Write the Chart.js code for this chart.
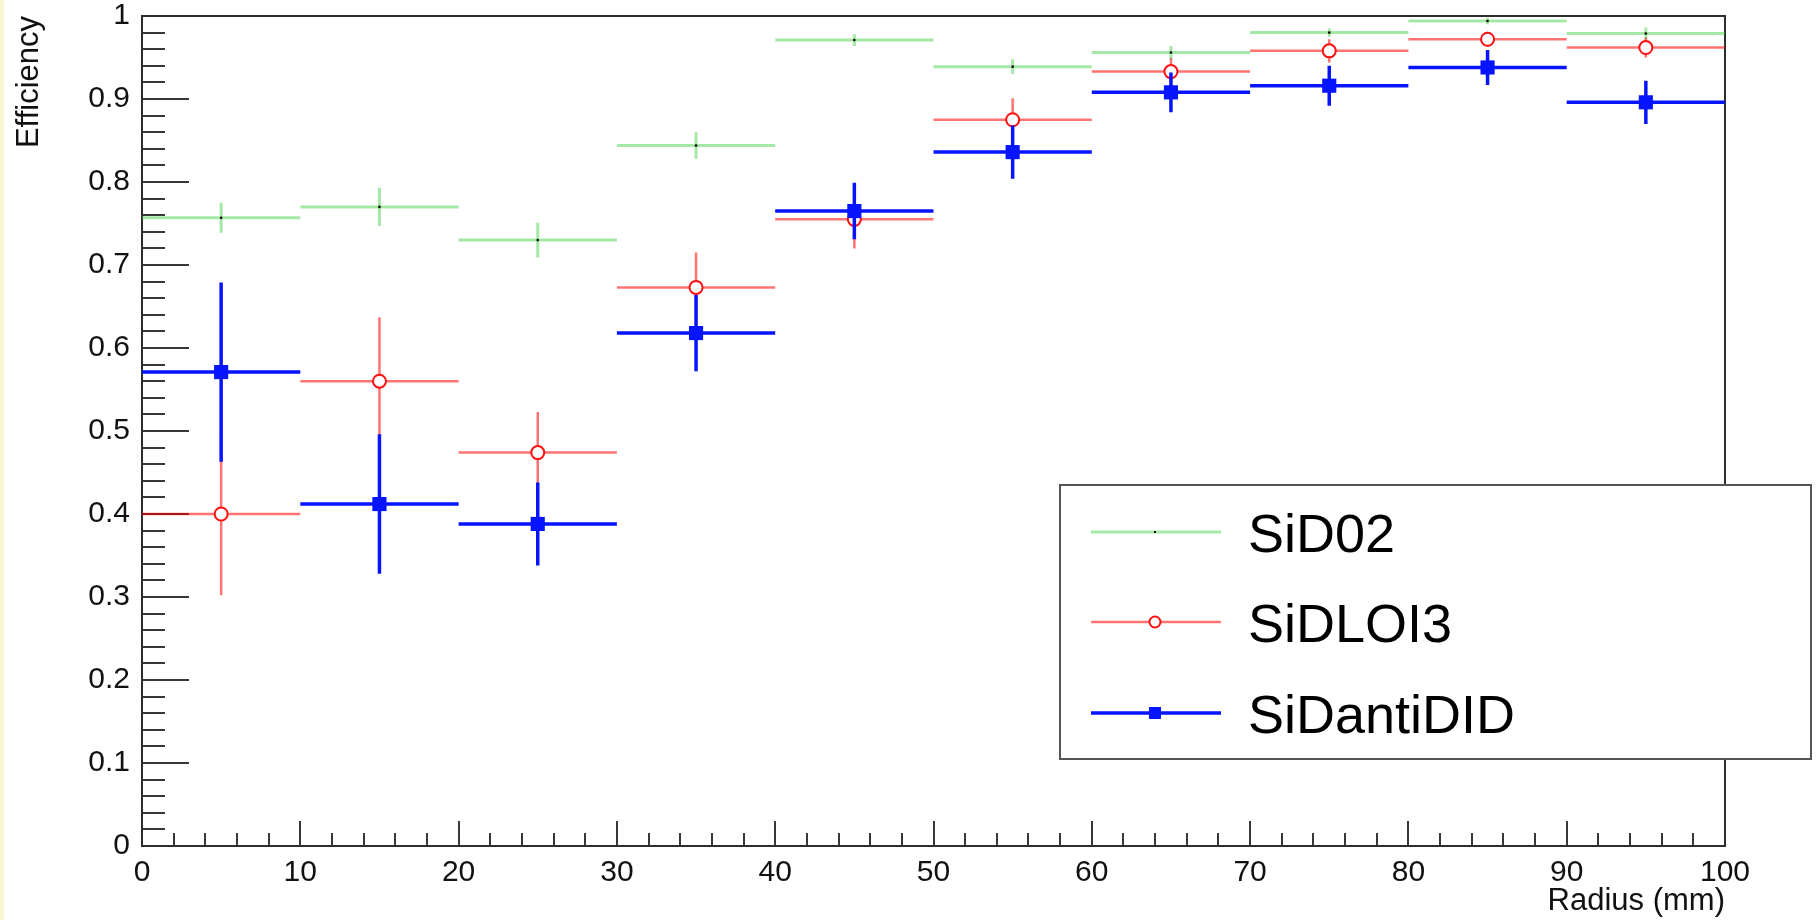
<!DOCTYPE html>
<html>
<head>
<meta charset="utf-8">
<script src="https://cdn.jsdelivr.net/npm/chart.js@4/dist/chart.umd.min.js"></script>
<style>
  html, body { margin: 0; padding: 0; background: #ffffff; }
  #wrap { width: 1820px; height: 920px; position: relative; }
  canvas { display: block; }
</style>
</head>
<body>
<div id="wrap"><canvas id="c" width="1820" height="920"></canvas></div>
<script>
// ---- data ----
const radiusCenters = [5, 15, 25, 35, 45, 55, 65, 75, 85, 95];
const binHalfWidth = 5;

const sid02Eff   = [0.757, 0.770, 0.730, 0.844, 0.971, 0.939, 0.956, 0.980, 0.994, 0.979];
const sid02Err   = [0.018, 0.023, 0.021, 0.016, 0.007, 0.009, 0.008, 0.005, 0.004, 0.007];

const sidloi3Eff = [0.400, 0.560, 0.474, 0.673, 0.755, 0.875, 0.933, 0.958, 0.972, 0.962];
const sidloi3Err = [0.098, 0.077, 0.049, 0.042, 0.035, 0.026, 0.016, 0.014, 0.009, 0.012];

const sidantiEff = [0.571, 0.412, 0.388, 0.618, 0.765, 0.836, 0.908, 0.916, 0.938, 0.896];
const sidantiErr = [0.108, 0.084, 0.050, 0.046, 0.034, 0.032, 0.024, 0.024, 0.021, 0.026];

const seriesNames = ['SiD02', 'SiDLOI3', 'SiDantiDID'];

const yTickValues = [0, 0.1, 0.2, 0.3, 0.4, 0.5, 0.6, 0.7, 0.8, 0.9, 1];
const xTickValues = [0, 10, 20, 30, 40, 50, 60, 70, 80, 90, 100];

// ---- helpers ----
function toPoints(vals) { return radiusCenters.map((x, i) => ({ x: x, y: vals[i] })); }

const FONT = '"Liberation Sans", Arial, Helvetica, sans-serif';

const styles = [
  { line: 'rgba(40,200,40,0.42)', lineWidth: 3 },
  { line: 'rgba(255,0,0,0.55)', lineWidth: 2.5 },
  { line: '#0714ff', lineWidth: 3.5 }
];

const rootPlugin = {
  id: 'rootStyle',
  beforeDraw(chart) {
    const ctx = chart.ctx;
    ctx.save();
    ctx.fillStyle = '#ffffff';
    ctx.fillRect(0, 0, chart.width, chart.height);
    ctx.fillStyle = '#f7f5d4';
    ctx.fillRect(0, 0, 4, chart.height);
    ctx.restore();
  },
  beforeDatasetsDraw(chart) {
    const ctx = chart.ctx;
    const xs = chart.scales.x, ys = chart.scales.y;
    const a = chart.chartArea;
    ctx.save();
    ctx.strokeStyle = '#383838';
    ctx.lineWidth = 2;
    // y ticks (inward, left axis)
    for (let i = 0; i <= 50; i++) {
      const v = i / 50;
      const py = Math.round(ys.getPixelForValue(v));
      const len = (i % 5 === 0) ? 47 : 23;
      ctx.beginPath();
      ctx.moveTo(a.left, py);
      ctx.lineTo(a.left + len, py);
      ctx.stroke();
    }
    // x ticks (inward, bottom axis)
    for (let i = 0; i <= 50; i++) {
      const v = i * 2;
      const px = Math.round(xs.getPixelForValue(v));
      const len = (i % 5 === 0) ? 25 : 13;
      ctx.beginPath();
      ctx.moveTo(px, a.bottom);
      ctx.lineTo(px, a.bottom - len);
      ctx.stroke();
    }
    // frame
    ctx.strokeStyle = '#2e2e2e';
    ctx.lineWidth = 2;
    ctx.strokeRect(Math.round(a.left), Math.round(a.top), Math.round(a.right - a.left), Math.round(a.bottom - a.top));
    ctx.restore();
  },
  beforeDatasetDraw(chart, args) {
    const ds = chart.data.datasets[args.index];
    const ctx = chart.ctx;
    const xs = chart.scales.x, ys = chart.scales.y;
    const st = styles[args.index];
    ctx.save();
    ctx.strokeStyle = st.line;
    ctx.lineWidth = st.lineWidth;
    ctx.lineCap = 'butt';
    ds.data.forEach((p, i) => {
      const e = ds.errY[i];
      const x0 = xs.getPixelForValue(p.x - binHalfWidth);
      const x1 = xs.getPixelForValue(p.x + binHalfWidth);
      const xc = xs.getPixelForValue(p.x);
      const yc = ys.getPixelForValue(p.y);
      const yt = ys.getPixelForValue(Math.min(1, p.y + e));
      const yb = ys.getPixelForValue(p.y - e);
      ctx.beginPath();
      ctx.moveTo(x0, yc); ctx.lineTo(x1, yc);
      ctx.moveTo(xc, yt); ctx.lineTo(xc, yb);
      ctx.stroke();
    });
    ctx.restore();
  },
  afterDraw(chart) {
    const ctx = chart.ctx;
    ctx.save();
    // legend box
    const bx = 1060, by = 485, bw = 751, bh = 274;
    ctx.fillStyle = '#ffffff';
    ctx.fillRect(bx, by, bw, bh);
    ctx.strokeStyle = '#555555';
    ctx.lineWidth = 2;
    ctx.strokeRect(bx, by, bw, bh);
    const rowY = [532, 622, 713];
    const baseY = [552, 642, 733];
    const lx0 = 1091, lx1 = 1221, mx = 1155;
    for (let k = 0; k < 3; k++) {
      const st = styles[k];
      ctx.strokeStyle = st.line;
      ctx.lineWidth = st.lineWidth;
      ctx.beginPath();
      ctx.moveTo(lx0, rowY[k]); ctx.lineTo(lx1, rowY[k]);
      ctx.stroke();
      if (k === 0) {
        ctx.fillStyle = '#000';
        ctx.fillRect(mx - 1, rowY[k] - 1, 2, 2);
      } else if (k === 1) {
        ctx.beginPath();
        ctx.arc(mx, rowY[k], 5.5, 0, Math.PI * 2);
        ctx.fillStyle = '#fff';
        ctx.fill();
        ctx.strokeStyle = '#ff1010';
        ctx.lineWidth = 2;
        ctx.stroke();
      } else {
        ctx.fillStyle = '#0714ff';
        ctx.fillRect(mx - 6, rowY[k] - 6, 12, 12);
      }
      ctx.fillStyle = '#000';
      ctx.font = '54px ' + FONT;
      ctx.textAlign = 'left';
      ctx.textBaseline = 'alphabetic';
      ctx.fillText(seriesNames[k], 1248, baseY[k]);
    }
    ctx.restore();
  }
};

const chart = new Chart(document.getElementById('c'), {
  type: 'scatter',
  data: {
    datasets: [
      {
        label: seriesNames[0], data: toPoints(sid02Eff), errY: sid02Err, order: 3,
        pointStyle: 'circle', pointRadius: 1.3, pointBackgroundColor: '#000', pointBorderWidth: 0,
        showLine: false
      },
      {
        label: seriesNames[1], data: toPoints(sidloi3Eff), errY: sidloi3Err, order: 2,
        pointStyle: 'circle', pointRadius: 6.5, pointBackgroundColor: '#ffffff',
        pointBorderColor: '#ff1010', pointBorderWidth: 2, showLine: false
      },
      {
        label: seriesNames[2], data: toPoints(sidantiEff), errY: sidantiErr, order: 1,
        pointStyle: 'rect', pointRadius: 10, pointBackgroundColor: '#0714ff', pointBorderWidth: 0,
        showLine: false
      }
    ]
  },
  options: {
    responsive: false,
    devicePixelRatio: 1,
    animation: false,
    events: [],
    layout: { padding: { left: 0, top: 16, right: 95, bottom: 0 } },
    plugins: { legend: { display: false }, tooltip: { enabled: false } },
    scales: {
      x: {
        type: 'linear', min: 0, max: 100,
        afterFit(s) { s.height = 74; s.paddingLeft = 0; s.paddingRight = 0; },
        afterBuildTicks(s) { s.ticks = xTickValues.map(v => ({ value: v })); },
        grid: { display: false, drawTicks: false },
        border: { display: false },
        ticks: { font: { family: FONT, size: 30 }, color: '#111', padding: 9, maxRotation: 0, autoSkip: false },
        title: { display: true, text: 'Radius (mm)', align: 'end', font: { family: FONT, size: 31 }, color: '#111', padding: { top: 0, bottom: 0 } }
      },
      y: {
        type: 'linear', min: 0, max: 1,
        afterFit(s) { s.width = 142; s.paddingTop = 0; s.paddingBottom = 0; },
        afterBuildTicks(s) { s.ticks = yTickValues.map(v => ({ value: v })); },
        grid: { display: false, drawTicks: false },
        border: { display: false },
        ticks: { font: { family: FONT, size: 30 }, color: '#111', padding: 12, autoSkip: false,
                 callback: (v) => String(Math.round(v * 10) / 10) },
        title: { display: true, text: 'Efficiency', align: 'end', font: { family: FONT, size: 31 }, color: '#111', padding: { top: 11, bottom: 0 } }
      }
    }
  },
  plugins: [rootPlugin]
});
</script>
</body>
</html>
